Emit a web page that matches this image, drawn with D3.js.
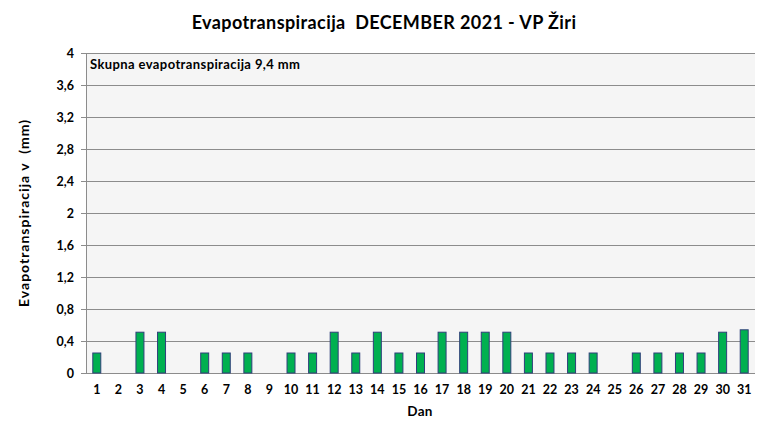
<!DOCTYPE html>
<html><head><meta charset="utf-8">
<script src="https://cdn.jsdelivr.net/npm/d3@7/dist/d3.min.js"></script>
<style>body{margin:0;background:#fff}svg{display:block}text{font-family:Lato,"Open Sans",sans-serif;font-weight:bold;white-space:pre}</style>
</head><body>
<script>
const days = d3.range(1, 32).map(String);
const values = [0.25,0,0.51,0.51,0,0.25,0.25,0.25,0,0.25,0.25,0.51,0.25,0.51,0.25,0.25,0.51,0.51,0.51,0.51,0.25,0.25,0.25,0.25,0,0.25,0.25,0.25,0.25,0.51,0.54];
const yTicks = [0,0.4,0.8,1.2,1.6,2,2.4,2.8,3.2,3.6,4];
const title = "Evapotranspiracija  DECEMBER 2021 - VP Žiri";
const note = "Skupna evapotranspiracija 9,4 mm";

const W = 770, H = 439;
const m = {l:86, r:15, t:53, b:66};
const svg = d3.select("body").append("svg").attr("width", W).attr("height", H);
const x = d3.scaleBand().domain(days).range([m.l, W - m.r]).paddingInner(0.63).paddingOuter(0.315);
const y = d3.scaleLinear().domain([0, 4]).range([H - m.b, m.t]);

svg.append("rect").attr("x", m.l).attr("y", m.t).attr("width", W - m.r - m.l).attr("height", H - m.b - m.t).attr("fill", "#f5f5f5");

svg.append("g").selectAll("line").data(yTicks).join("line")
  .attr("x1", m.l).attr("x2", W - m.r).attr("y1", d => y(d)).attr("y2", d => y(d))
  .attr("stroke", "#8c8c8c").attr("stroke-width", 1).attr("shape-rendering", "crispEdges");
svg.append("line").attr("x1", m.l).attr("x2", m.l).attr("y1", m.t).attr("y2", H - m.b)
  .attr("stroke", "#8c8c8c").attr("shape-rendering", "crispEdges");

const yAxis = svg.append("g").attr("transform", `translate(${m.l},0)`)
  .call(d3.axisLeft(y).tickValues(yTicks).tickSize(5).tickPadding(7).tickFormat(d => String(d).replace(".", ",")));
yAxis.select(".domain").remove();
yAxis.selectAll("line").attr("stroke", "#8c8c8c");
yAxis.selectAll("text").attr("font-size", 12.5).attr("fill", "#000").style("font-family", "Lato,sans-serif").style("font-weight", "bold");

svg.append("g").selectAll("rect").data(values).join("rect")
  .attr("x", (d, i) => x(days[i])).attr("width", x.bandwidth())
  .attr("y", d => y(d)).attr("height", d => y(0) - y(d))
  .attr("fill", d => d > 0 ? "#00b050" : "none").attr("stroke", d => d > 0 ? "#2f3f7a" : "none").attr("stroke-width", 1);

const xAxis = svg.append("g").attr("transform", `translate(0,${H - m.b})`)
  .call(d3.axisBottom(x).tickSize(0).tickPadding(12));
xAxis.select(".domain").remove();
xAxis.selectAll("text").attr("font-size", 12.5).attr("fill", "#000").style("font-family", "Lato,sans-serif").style("font-weight", "bold");

svg.append("text").attr("x", 384).attr("y", 29).attr("text-anchor", "middle").attr("font-size", 18).attr("letter-spacing", 0.4).text(title);
svg.append("text").attr("x", 90).attr("y", 69).attr("font-size", 13).attr("letter-spacing", 0.4).text(note);
svg.append("text").attr("x", 420).attr("y", 416).attr("text-anchor", "middle").attr("font-size", 13.5).attr("letter-spacing", 0.3).text("Dan");
svg.append("text").attr("transform", `translate(29,${(m.t + H - m.b) / 2}) rotate(-90)`).attr("text-anchor", "middle").attr("font-size", 14).attr("letter-spacing", 1).text("Evapotranspiracija v  (mm)");
</script>
</body></html>
